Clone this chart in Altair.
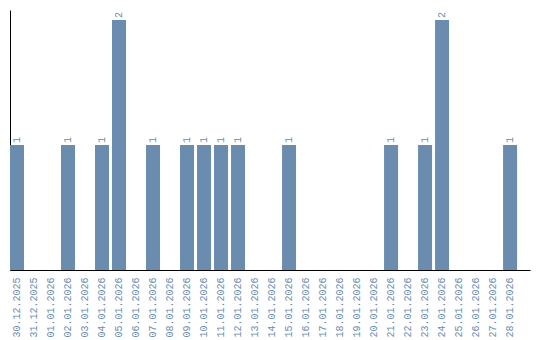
import altair as alt
import pandas as pd

dates = ["30.12.2025", "31.12.2025", "01.01.2026", "02.01.2026", "03.01.2026",
         "04.01.2026", "05.01.2026", "06.01.2026", "07.01.2026", "08.01.2026",
         "09.01.2026", "10.01.2026", "11.01.2026", "12.01.2026", "13.01.2026",
         "14.01.2026", "15.01.2026", "16.01.2026", "17.01.2026", "18.01.2026",
         "19.01.2026", "20.01.2026", "21.01.2026", "22.01.2026", "23.01.2026",
         "24.01.2026", "25.01.2026", "26.01.2026", "27.01.2026", "28.01.2026"]
counts = [1, 0, 0, 1, 0, 1, 2, 0, 1, 0, 1, 1, 1, 1, 0, 0, 1, 0, 0, 0,
          0, 0, 1, 0, 1, 2, 0, 0, 0, 1]

df = pd.DataFrame({"date": dates, "count": counts})
color = "#6a8caf"
font = "Liberation Mono"

x = alt.X("date:N", sort=dates, title=None,
          scale=alt.Scale(paddingInner=0.176, paddingOuter=0.38, align=0),
          axis=alt.Axis(labelAngle=270, labelAlign="right", labelBaseline="middle",
                        labelColor=color, labelFont=font, labelFontSize=10,
                        labelPadding=7, ticks=False, domainColor="black",
                        labelOverlap=False))
y = alt.Y("count:Q", title=None, scale=alt.Scale(domain=[0, 2.08], nice=False),
          axis=alt.Axis(labels=False, ticks=False, grid=False, domainColor="black"))

bars = alt.Chart(df).mark_bar(color=color).encode(x=x, y=y)
labels = alt.Chart(df).transform_filter("datum.count > 0").mark_text(
    angle=270, align="left", baseline="middle", dx=2, color=color,
    font=font, fontSize=10
).encode(x=x, y=y, text="count:Q")

chart = (bars + labels).properties(
    width=520, height=260,
    autosize=alt.AutoSizeParams(type="none"),
    padding={"left": 10, "top": 10, "right": 10, "bottom": 70}
).configure_view(stroke=None)

chart.save("out.html", embed_options={"renderer": "svg", "actions": False})
